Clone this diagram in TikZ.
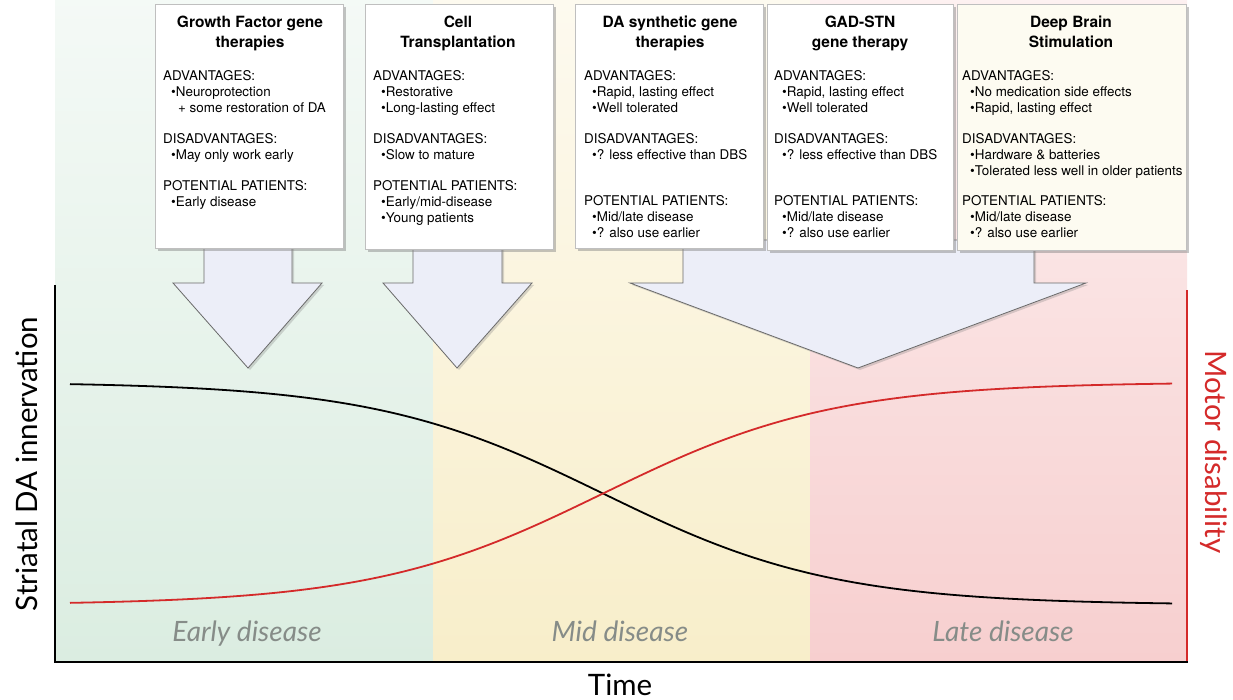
\documentclass[tikz,border=0pt]{standalone}
\usepackage{fontspec}
\setmainfont{TeX Gyre Heros}
\newfontfamily\lblfont{Lato}
\usetikzlibrary{shadows}
\definecolor{bgGreen}{HTML}{DBEDE1}
\definecolor{bgYellow}{HTML}{F8EECA}
\definecolor{bgRed}{HTML}{F7CFCF}
\definecolor{arrowFill}{HTML}{ECEEF8}
\definecolor{arrowLine}{HTML}{6A6A6A}
\definecolor{dbsFill}{HTML}{FDFBF1}
\definecolor{axRed}{HTML}{D42A2A}
\definecolor{phaseGray}{HTML}{868C88}
\newcommand{\bul}{\hspace*{8pt}\textbullet}
\newcommand{\cont}{\hspace*{15pt}}
\begin{document}
\begin{tikzpicture}[x=1pt,y=-1pt,
  infobox/.style={draw=black!25, line width=0.5pt, fill=white, anchor=north west,
    inner sep=0pt, drop shadow={shadow xshift=2.5pt, shadow yshift=-2.5pt, opacity=0.45}},
  boxtitle/.style={anchor=north, align=center, inner sep=0pt,
    font=\fontsize{15.5}{20}\selectfont\bfseries},
  boxbody/.style={anchor=north west, align=left, inner sep=0pt,
    font=\fontsize{13.4}{16}\selectfont},
  blockarrow/.style={fill=arrowFill, draw=arrowLine, line width=0.8pt, line join=miter,
    drop shadow={shadow xshift=2pt, shadow yshift=-2pt, opacity=0.3}},
  phase/.style={anchor=base, font=\lblfont\itshape\fontsize{28}{32}\selectfont, text=phaseGray},
  axislabel/.style={font=\lblfont\fontsize{29.5}{34}\selectfont},
  curve/.style={line width=1.8pt}
]
\useasboundingbox (0,0) rectangle (1233,700);
% background bands
\shade[top color=bgGreen!30!white, bottom color=bgGreen] (55,0) rectangle (433,662);
\shade[top color=bgYellow!30!white, bottom color=bgYellow] (433,0) rectangle (810,662);
\shade[top color=bgRed!30!white, bottom color=bgRed] (810,0) rectangle (1187,662);

% block arrows
\draw[blockarrow] (204,240) -- (204,283) -- (173,283) -- (248,368) -- (322,283) -- (292,283) -- (292,240) -- cycle;
\draw[blockarrow] (413,240) -- (413,283) -- (383,283) -- (457,368) -- (532,283) -- (502,283) -- (502,240) -- cycle;
\draw[blockarrow] (683,240) -- (683,283) -- (630,283) -- (858,368) -- (1086,283) -- (1034,283) -- (1034,240) -- cycle;

% boxes
\node[infobox, minimum width=188pt, minimum height=244pt] (b1) at (155,4) {};
\node[infobox, minimum width=188pt, minimum height=245pt] (b2) at (365,4) {};
\node[infobox, minimum width=188pt, minimum height=244pt] (b3) at (575,4) {};
\node[infobox, minimum width=186pt, minimum height=246pt] (b4) at (767,4) {};
\node[infobox, fill=dbsFill, minimum width=229pt, minimum height=246pt] (b5) at (957,4) {};

% titles
\node[boxtitle] (t1) at (250,16) {Growth Factor gene\\therapies};
\node[boxtitle] (t2) at (458,16) {Cell\\Transplantation};
\node[boxtitle] (t3) at (670,16) {DA synthetic gene\\therapies};
\node[boxtitle] (t4) at (860,16) {GAD-STN\\gene therapy};
\node[boxtitle] (t5) at (1071,16) {Deep Brain\\Stimulation};

% bodies
\node[boxbody] (d1) at (163,70) {ADVANTAGES:\\
\bul Neuroprotection\\
\cont + some restoration of DA\\[15pt]
DISADVANTAGES:\\
\bul May only work early\\[15pt]
POTENTIAL PATIENTS:\\
\bul Early disease};
\node[boxbody] (d2) at (373,70) {ADVANTAGES:\\
\bul Restorative\\
\bul Long-lasting effect\\[15pt]
DISADVANTAGES:\\
\bul Slow to mature\\[15pt]
POTENTIAL PATIENTS:\\
\bul Early/mid-disease\\
\bul Young patients};
\node[boxbody] (d3) at (584,70) {ADVANTAGES:\\
\bul Rapid, lasting effect\\
\bul Well tolerated\\[15pt]
DISADVANTAGES:\\
\bul ? less effective than DBS\\[30pt]
POTENTIAL PATIENTS:\\
\bul Mid/late disease\\
\bul ? also use earlier};
\node[boxbody] (d4) at (774,70) {ADVANTAGES:\\
\bul Rapid, lasting effect\\
\bul Well tolerated\\[15pt]
DISADVANTAGES:\\
\bul ? less effective than DBS\\[30pt]
POTENTIAL PATIENTS:\\
\bul Mid/late disease\\
\bul ? also use earlier};
\node[boxbody] (d5) at (962,70) {ADVANTAGES:\\
\bul No medication side effects\\
\bul Rapid, lasting effect\\[15pt]
DISADVANTAGES:\\
\bul Hardware \& batteries\\
\bul Tolerated less well in older patients\\[14pt]
POTENTIAL PATIENTS:\\
\bul Mid/late disease\\
\bul ? also use earlier};

% curves
\draw[curve, black] plot[domain=70:1172, samples=150, smooth] (\x, {382+223/(1+exp(-(\x-603)/115))});
\draw[curve, axRed] plot[domain=70:1172, samples=150, smooth] (\x, {605-223/(1+exp(-(\x-603)/115))});

% axes
\draw[axRed, line width=2pt] (1187,290) -- (1187,662);
\draw[line width=2.5pt] (55,285) -- (55,662) -- (1188,662);

% phase labels
\node[phase] (p1) at (247,641) {Early disease};
\node[phase] (p2) at (620,641) {Mid disease};
\node[phase] (p3) at (1003,641) {Late disease};

% axis labels
\node[axislabel, rotate=90] (yl) at (27,464) {Striatal DA innervation};
\node[axislabel, rotate=-90, text=axRed] (yr) at (1214,452) {Motor disability};
\node[axislabel] (xl) at (620,685) {Time};
\end{tikzpicture}
\end{document}
